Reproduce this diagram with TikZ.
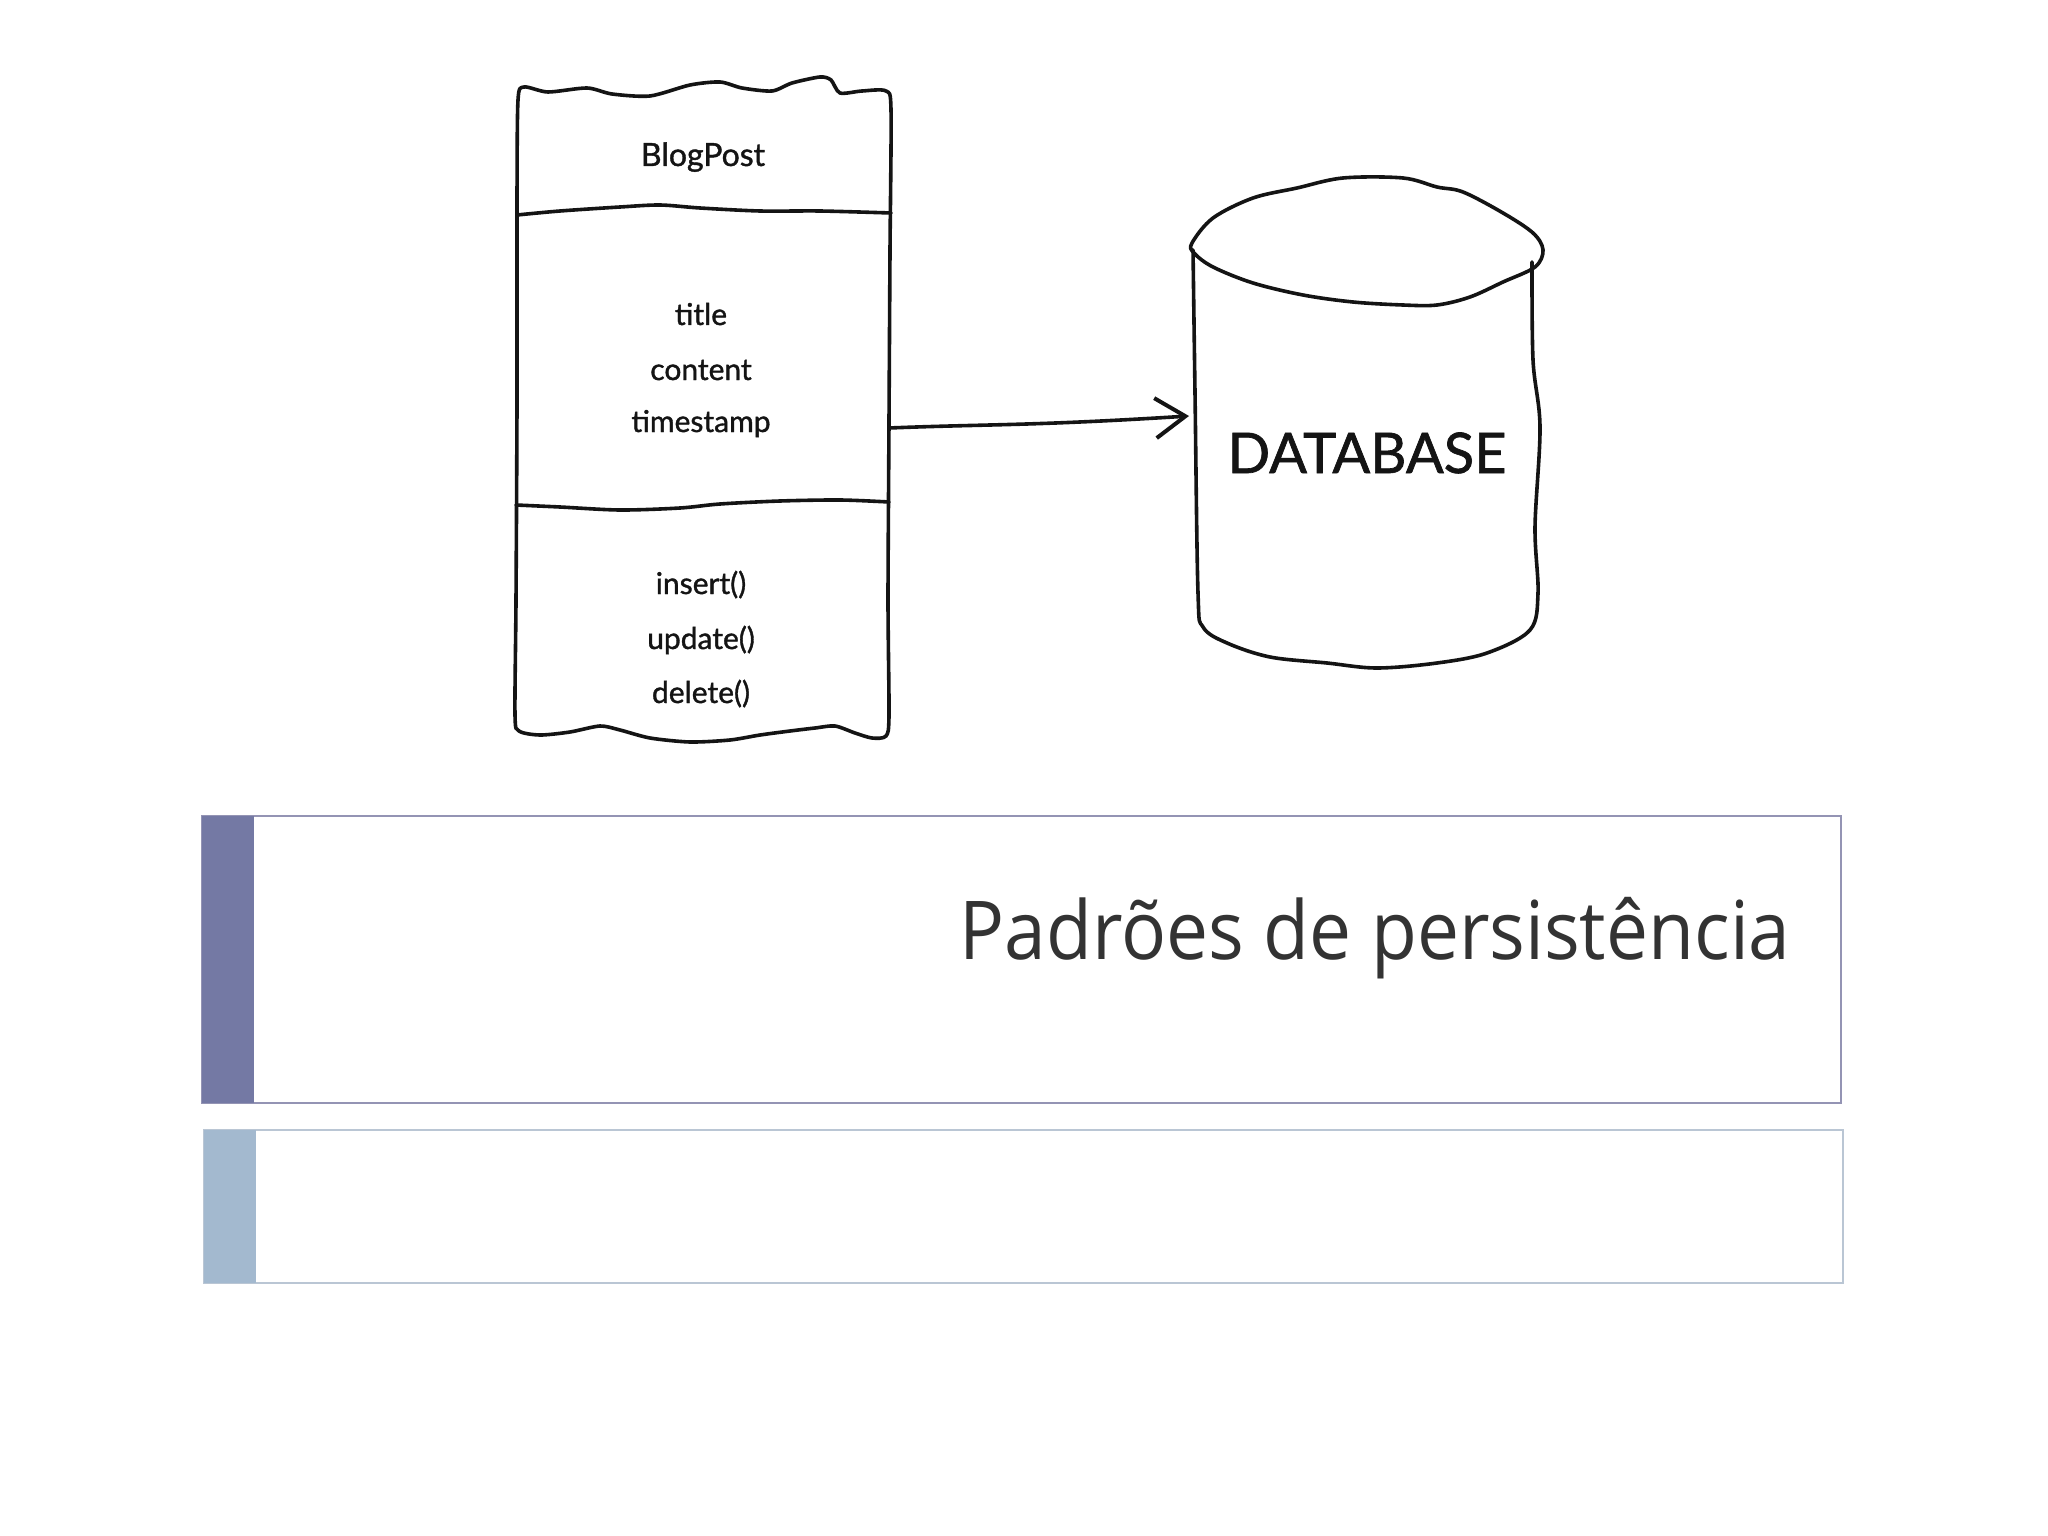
\documentclass[tikz,border=0pt]{standalone}
\usepackage{fontspec}
\setmainfont{Open Sans}
\newfontfamily\handfont[FakeBold=1.2]{Lato}
\usetikzlibrary{arrows.meta}
\definecolor{titlegray}{HTML}{333333}
\definecolor{barone}{HTML}{7479A4}
\definecolor{bartwo}{HTML}{A3B9CF}
\definecolor{edgeone}{HTML}{9494B4}
\definecolor{edgetwo}{HTML}{BAC6D4}
\definecolor{ink}{HTML}{141414}
\begin{document}
\begin{tikzpicture}[x=0.5pt,y=-0.5pt,
  sketch/.style={draw=ink, line width=1.8pt, line cap=round, line join=round},
  handtext/.style={font=\handfont\fontsize{15}{18}\selectfont, text=ink, inner sep=0pt, anchor=base},
  panelone/.style={draw=edgeone, line width=1pt, fill=white},
  paneltwo/.style={draw=edgetwo, line width=1pt, fill=white}
]
\useasboundingbox (0,0) rectangle (2048,1535);
\fill[white] (0,0) rectangle (2048,1535);

% ---- BlogPost class box (hand drawn) ----
\draw[sketch] plot[smooth cycle, tension=0.45] coordinates {
  (524,87) (548,92) (587,88) (612,94) (650,96) (690,85) (720,82) (742,88)
  (772,91) (792,83) (820,77) (831,80) (840,93) (862,91) (886,91)
  (891,110) (890,250) (889,420) (888,600) (889,715) (886,736)
  (872,738) (855,733) (835,726) (815,728) (790,731) (760,735) (730,740)
  (690,742) (650,738) (620,730) (600,726) (570,732) (540,735) (519,731)
  (515,715) (516,600) (517,400) (517,200) (518,100)
};
\draw[sketch] plot[smooth, tension=0.5] coordinates {
  (517,215) (560,211) (620,207) (660,205) (700,208) (760,211) (820,211) (891,213)};
\draw[sketch] plot[smooth, tension=0.5] coordinates {
  (516,505) (560,507) (620,510) (680,508) (720,504) (780,501) (840,500) (889,502)};

\node[handtext, font=\handfont\fontsize{16}{18}\selectfont] (cls) at (703,166) {BlogPost};
\node[handtext] (attr1) at (701,325) {title};
\node[handtext] (attr2) at (701,380) {content};
\node[handtext] (attr3) at (701,432) {timestamp};
\node[handtext] (meth1) at (701,594) {insert()};
\node[handtext] (meth2) at (701,649) {update()};
\node[handtext] (meth3) at (701,703) {delete()};

% ---- Database cylinder (hand drawn) ----
\draw[sketch] plot[smooth cycle, tension=0.55] coordinates {
  (1192,243) (1213,218) (1253,198) (1297,188) (1343,178) (1403,178) (1437,187)
  (1463,192) (1503,213) (1533,233) (1543,250) (1535,267) (1503,282) (1470,297)
  (1437,305) (1403,305) (1353,302) (1303,295) (1253,283) (1213,267) (1194,253)};
\draw[sketch] plot[smooth, tension=0.55] coordinates {
  (1193,250) (1195,393) (1198,593) (1203,627) (1227,643) (1270,657) (1327,663)
  (1377,668) (1437,663) (1487,653) (1530,630) (1538,593) (1535,527) (1540,427)
  (1533,360) (1532,262)};
\node[handtext, font=\handfont\fontsize{28}{30}\selectfont] (db) at (1367,473) {DATABASE};

% ---- connector ----
\coordinate (arrowstart) at (889,428);
\coordinate (arrowend) at (1189,416);
\draw[sketch, -{Straight Barb[length=15pt, width=20pt, line width=2pt]}]
  (arrowstart) .. controls (990,424) and (1030,426) .. (arrowend);

% ---- title panels ----
\draw[panelone] (202,816) rectangle (1841,1103);
\fill[barone] (202,816) rectangle (254,1103);
\node[inner sep=0pt, anchor=base east, text=titlegray,
  font=\fontsize{40.6}{44}\selectfont] (title) at (1791,959)
  {\scalebox{0.922}[1]{Padrões de persistência}};

\draw[paneltwo] (204,1130) rectangle (1843,1283);
\fill[bartwo] (204,1130) rectangle (256,1283);
\end{tikzpicture}
\end{document}
